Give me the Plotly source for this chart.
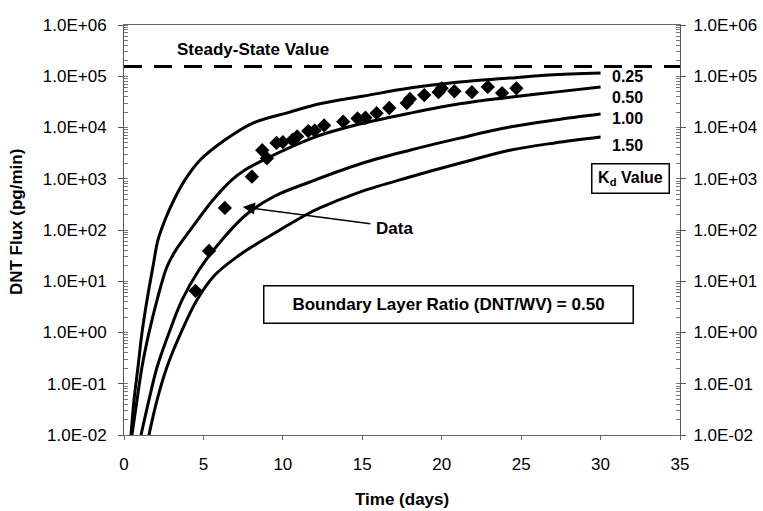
import plotly.graph_objects as go

# model curves, one per Kd value
kd_labels = ["0.25", "0.50", "1.00", "1.50"]

x_kd025 = [0.44, 0.63, 0.88, 1.13, 1.45, 1.82, 2.14, 2.58, 3.14, 3.84, 4.78,
           6.35, 8.11, 10.44, 12.33, 15.09, 17.99, 21.13, 24.28, 26.79, 30.0]
y_kd025 = [0.01, 0.048, 0.21, 0.98, 4.3, 19, 64, 157, 385, 950, 2300,
           5700, 12200, 20000, 29000, 41000, 59000, 77000, 92000, 106000, 116000]

x_kd050 = [0.50, 0.82, 1.13, 1.57, 2.08, 2.70, 3.27, 3.71, 4.40, 5.60, 6.79,
           7.61, 8.99, 12.01, 14.84, 17.99, 21.13, 24.28, 27.11, 30.0]
y_kd050 = [0.01, 0.048, 0.21, 0.98, 4.3, 19, 41, 64, 125, 385, 950,
           1480, 2500, 6500, 11700, 19000, 29000, 39000, 49000, 62000]

x_kd100 = [1.07, 1.57, 2.08, 2.83, 3.65, 4.72, 6.16, 7.74, 9.50, 11.70, 14.84,
           17.99, 21.13, 24.28, 27.11, 30.0]
y_kd100 = [0.01, 0.048, 0.21, 0.98, 4.3, 16.6, 64, 205, 460, 865, 1940,
           3600, 6200, 10200, 14000, 18300]

x_kd150 = [1.57, 2.08, 2.70, 3.58, 4.59, 5.72, 6.98, 8.24, 9.81, 11.32, 12.33,
           14.84, 17.99, 21.13, 24.28, 27.11, 30.0]
y_kd150 = [0.01, 0.048, 0.21, 0.98, 4.3, 13.2, 28, 51, 100, 188, 270,
           550, 1080, 2000, 3600, 5000, 6500]

# measured flux
data_x = [4.5, 5.35, 6.35, 8.05, 8.7, 9.0, 9.6, 10.0, 10.6, 10.9, 11.6, 12.0,
          12.6, 13.8, 14.7, 15.2, 15.9, 16.7, 17.8, 18.0, 18.9, 19.8, 20.0,
          20.8, 21.9, 22.9, 23.8, 24.7]
data_y = [6.5, 39, 270, 1100, 3600, 2500, 5000, 5200, 5700, 6700, 8500, 8700,
          11000, 13000, 15000, 15500, 19000, 24000, 30000, 36000, 43000, 49000,
          58000, 51000, 49000, 62000, 47000, 58000]

steady_x = [0, 35]
steady_y = [155000, 155000]

ytick_vals = [1e-2, 1e-1, 1, 10, 100, 1e3, 1e4, 1e5, 1e6]
ytick_text = ["1.0E-02", "1.0E-01", "1.0E+00", "1.0E+01", "1.0E+02",
              "1.0E+03", "1.0E+04", "1.0E+05", "1.0E+06"]

FONT = "Liberation Sans, Arial, sans-serif"

fig = go.Figure()

fig.add_trace(go.Scatter(x=steady_x, y=steady_y, mode="lines",
                         line=dict(color="black", width=3, dash="18px,12px")))

curves = [(x_kd025, y_kd025), (x_kd050, y_kd050), (x_kd100, y_kd100), (x_kd150, y_kd150)]
for cx, cy in curves:
    fig.add_trace(go.Scatter(x=cx, y=cy, mode="lines",
                             line=dict(color="black", width=3, shape="spline", smoothing=1.0)))

fig.add_trace(go.Scatter(x=data_x, y=data_y, mode="markers",
                         marker=dict(symbol="diamond", size=11, color="black")))

# dummy trace so the right-hand axis shows
fig.add_trace(go.Scatter(x=[0], y=[1], yaxis="y2", mode="markers",
                         marker=dict(opacity=0), hoverinfo="skip"))

axis_font = dict(family=FONT, size=17, color="black")

fig.update_layout(
    width=763, height=511,
    margin=dict(l=124, r=83, t=25, b=76),
    paper_bgcolor="white", plot_bgcolor="white",
    showlegend=False,
    font=dict(family=FONT, color="black"),
    xaxis=dict(range=[0, 35], tickvals=[0, 5, 10, 15, 20, 25, 30, 35],
               automargin=False,
               showgrid=False, zeroline=False, showline=True, linecolor="#666",
               linewidth=1, mirror=True, ticks="outside", ticklen=4,
               tickcolor="#666", tickfont=axis_font, ticklabelstandoff=10),
    yaxis=dict(type="log", range=[-2, 6], tickvals=ytick_vals, ticktext=ytick_text,
               automargin=False,
               showgrid=False, zeroline=False, showline=True, linecolor="#555",
               linewidth=1, ticks="outside", ticklen=5, tickcolor="#555",
               tickfont=axis_font, ticklabelstandoff=8,
               minor=dict(dtick="D1", ticks="inside", ticklen=4, tickcolor="#777")),
    yaxis2=dict(type="log", range=[-2, 6], tickvals=ytick_vals, ticktext=ytick_text,
                overlaying="y", side="right", matches="y", automargin=False,
                showgrid=False, zeroline=False, showline=True, linecolor="#555",
                linewidth=1, ticks="outside", ticklen=5, tickcolor="#555",
                tickfont=axis_font, ticklabelstandoff=4,
                minor=dict(dtick="D1", ticks="inside", ticklen=4, tickcolor="#777")),
)

bold = dict(family=FONT, size=17, color="black")
label_font = dict(family=FONT, size=16, color="black")

ann = [
    dict(text="<b>Steady-State Value</b>", x=3.2, y=5.53, xanchor="left",
         yanchor="middle", font=bold),
    dict(text="<b>Data</b>", x=17.0, y=2.02, xanchor="center", yanchor="middle",
         font=bold),
    dict(text="", x=7.48, y=2.45, ax=15.6, ay=2.12, axref="x", ayref="y",
         showarrow=True, arrowhead=2, arrowsize=1.6, arrowwidth=1.5, arrowcolor="black"),
    dict(text="<b>Boundary Layer Ratio (DNT/WV) = 0.50</b>", x=20.4, y=0.54,
         xanchor="center", yanchor="middle", font=bold, width=366, height=34,
         bordercolor="black", borderwidth=1.5, borderpad=1, bgcolor="white"),
    dict(text="<b>K<sub>d</sub> Value</b>", x=31.9, y=3.0, xanchor="center",
         yanchor="middle", font=label_font, width=74, height=26,
         bordercolor="black", borderwidth=1.5, borderpad=1, bgcolor="white"),
    dict(text="<b>Time (days)</b>", xref="paper", yref="paper", x=0.5, y=-0.158,
         xanchor="center", yanchor="middle", font=bold),
    dict(text="<b>DNT Flux (pg/min)</b>", xref="paper", yref="paper", x=-0.192,
         y=0.52, xanchor="center", yanchor="middle", textangle=-90, font=bold),
]
for lbl, ylog in zip(kd_labels, [5.0, 4.58, 4.17, 3.64]):
    ann.append(dict(text="<b>" + lbl + "</b>", x=31.7, y=ylog, xanchor="center",
                    yanchor="middle", font=label_font))

for a in ann:
    a.setdefault("xref", "x")
    a.setdefault("yref", "y")
    a.setdefault("showarrow", False)
    fig.add_annotation(**a)

# drop the browser's default page margin so the figure sits at the top-left corner
fig.write_html("out.html", config={"displayModeBar": False},
               post_script="document.body.style.margin='0';document.body.style.overflow='hidden';")
